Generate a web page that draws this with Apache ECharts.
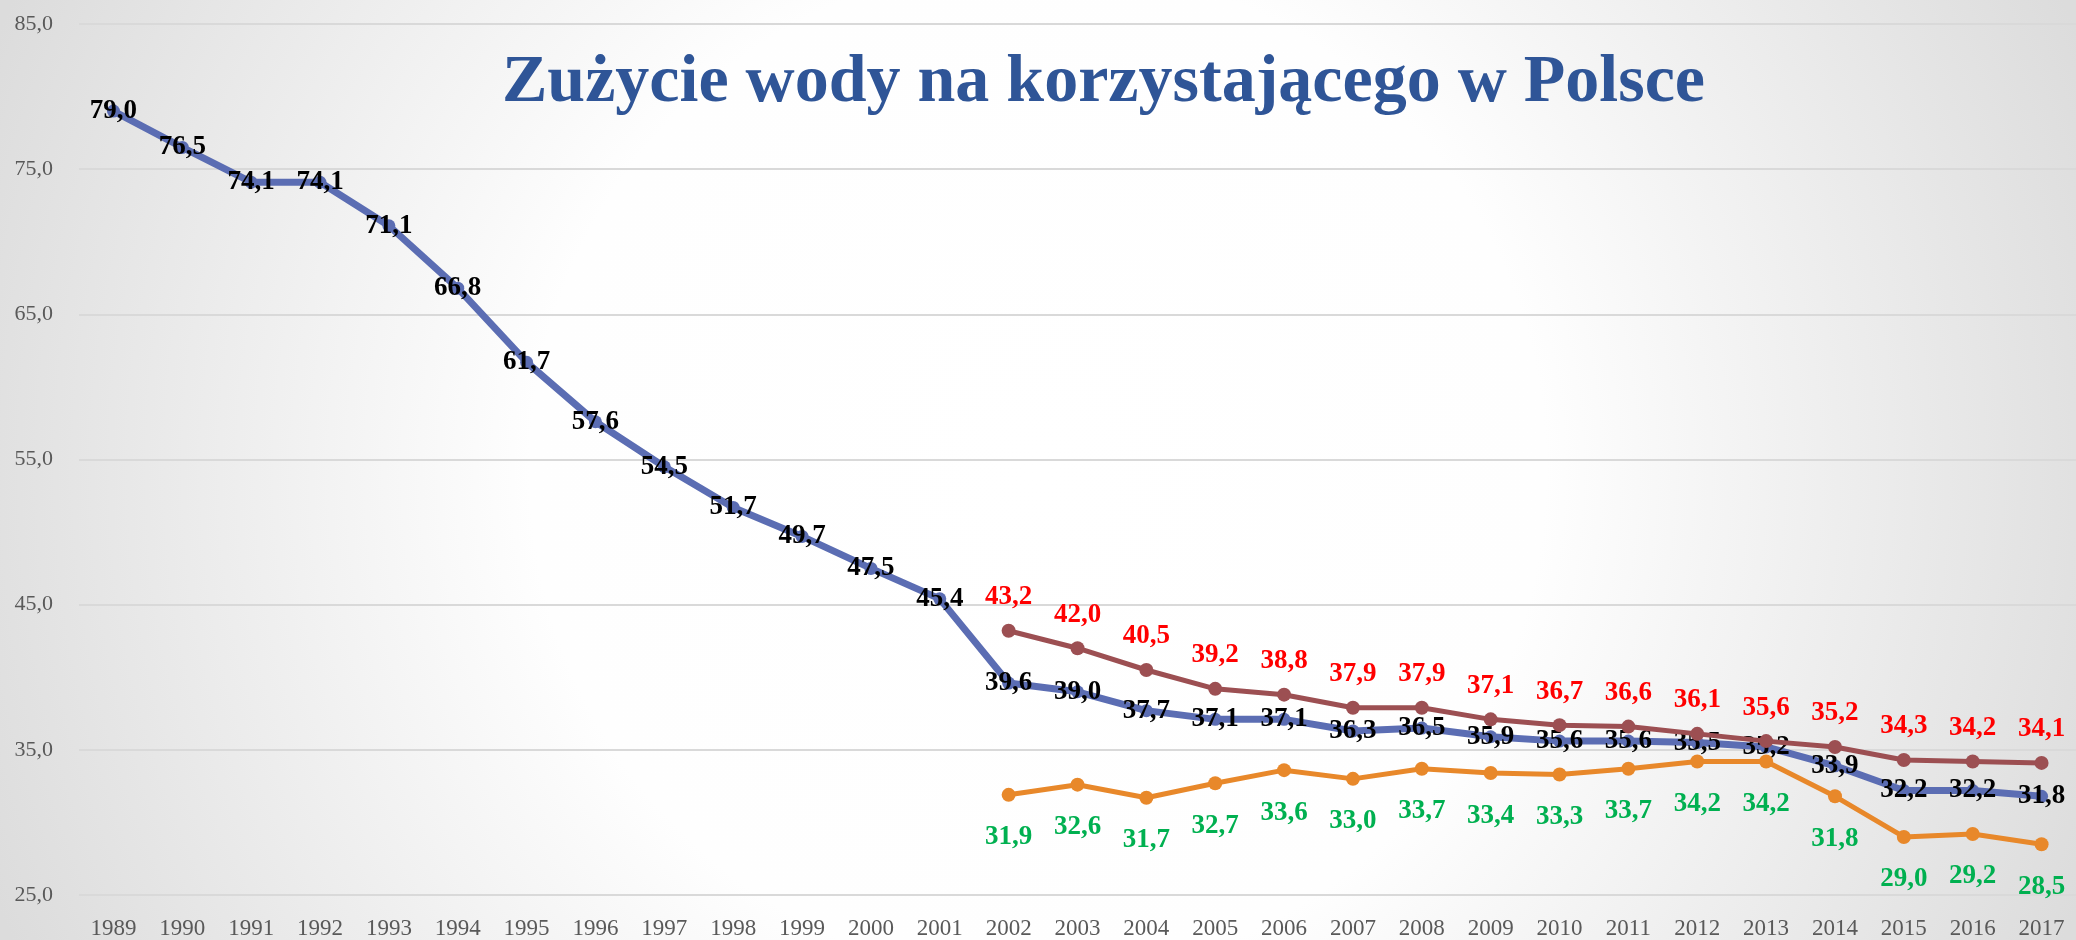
<!DOCTYPE html>
<html>
<head>
<meta charset="utf-8">
<title>Zużycie wody</title>
<script src="https://cdn.jsdelivr.net/npm/echarts@6/dist/echarts.min.js"></script>
<style>
  html, body { margin: 0; padding: 0; }
  #chart { width: 2076px; height: 940px; }
</style>
</head>
<body>
<div id="chart"></div>
<script>
// lata
var years = ['1989', '1990', '1991', '1992', '1993', '1994', '1995', '1996', '1997', '1998',
  '1999', '2000', '2001', '2002', '2003', '2004', '2005', '2006', '2007', '2008', '2009',
  '2010', '2011', '2012', '2013', '2014', '2015', '2016', '2017'];
var yearsLate = years.slice(13); // 2002 - 2017

// seria niebieska (1989 - 2017)
var blueVals = [79.0, 76.5, 74.1, 74.1, 71.1, 66.8, 61.7, 57.6, 54.5, 51.7, 49.7, 47.5, 45.4,
  39.6, 39.0, 37.7, 37.1, 37.1, 36.3, 36.5, 35.9, 35.6, 35.6, 35.5, 35.2, 33.9, 32.2, 32.2, 31.8];
// seria czerwona (2002 - 2017)
var redVals = [43.2, 42.0, 40.5, 39.2, 38.8, 37.9, 37.9, 37.1, 36.7, 36.6, 36.1, 35.6, 35.2, 34.3, 34.2, 34.1];
// seria pomarańczowa (2002 - 2017)
var orangeVals = [31.9, 32.6, 31.7, 32.7, 33.6, 33.0, 33.7, 33.4, 33.3, 33.7, 34.2, 34.2, 31.8, 29.0, 29.2, 28.5];

var yMin = 25, yMax = 85, yStep = 10;

function fmt(v) {
  return Number(v).toFixed(1).replace('.', ',');
}
function pairs(vals) {
  return vals.map(function (v, i) { return [yearsLate[i], v]; });
}

var labelFont = {
  fontFamily: 'Liberation Serif',
  fontWeight: 'bold',
  fontSize: 27
};

var option = {
  backgroundColor: {
    type: 'radial', x: 0.5, y: 0.5, r: 1.2,
    colorStops: [
      { offset: 0, color: '#ffffff' },
      { offset: 0.45, color: '#fefefe' },
      { offset: 1, color: '#dcdcdc' }
    ]
  },
  animation: false,
  title: {
    text: 'Zużycie wody na korzystającego w Polsce',
    left: 497,
    top: 44,
    textStyle: {
      fontFamily: 'Liberation Serif',
      fontWeight: 'bold',
      fontSize: 68,
      color: '#2F5597'
    }
  },
  grid: {
    left: 79,
    top: 24,
    width: 2003,
    bottom: 45
  },
  xAxis: {
    type: 'category',
    data: years,
    boundaryGap: true,
    axisLine: { show: false },
    axisTick: { show: false },
    axisLabel: {
      margin: 22,
      color: '#595959',
      fontFamily: 'Liberation Serif',
      fontSize: 23
    }
  },
  yAxis: {
    type: 'value',
    min: yMin,
    max: yMax,
    interval: yStep,
    axisLine: { show: false },
    axisTick: { show: false },
    axisLabel: {
      margin: 26,
      color: '#595959',
      fontFamily: 'Liberation Serif',
      fontSize: 22,
      formatter: fmt
    },
    splitLine: {
      lineStyle: { color: '#d9d9d9', width: 2 }
    }
  },
  series: [
    {
      name: 'niebieska',
      type: 'line',
      data: blueVals,
      symbol: 'circle',
      symbolSize: 13,
      z: 2,
      itemStyle: { color: '#5B6DB3' },
      lineStyle: { width: 7, color: '#5B6DB3' },
      label: Object.assign({
        show: true,
        position: 'inside',
        color: '#000000',
        formatter: function (p) { return fmt(p.value); }
      }, labelFont)
    },
    {
      name: 'czerwona',
      type: 'line',
      data: pairs(redVals),
      symbol: 'circle',
      symbolSize: 14,
      z: 3,
      itemStyle: { color: '#9C4F52' },
      lineStyle: { width: 5, color: '#9C4F52' },
      label: Object.assign({
        show: true,
        position: 'top',
        distance: 13,
        color: '#FF0000',
        formatter: function (p) { return fmt(p.value[1]); }
      }, labelFont)
    },
    {
      name: 'pomaranczowa',
      type: 'line',
      data: pairs(orangeVals),
      symbol: 'circle',
      symbolSize: 14,
      z: 3,
      itemStyle: { color: '#E8882A' },
      lineStyle: { width: 5, color: '#E8882A' },
      label: Object.assign({
        show: true,
        position: 'bottom',
        distance: 22,
        color: '#00B050',
        formatter: function (p) { return fmt(p.value[1]); }
      }, labelFont)
    }
  ]
};

var myChart = echarts.init(document.getElementById('chart'));
myChart.setOption(option, true);
window.onresize = function () { myChart.resize(); };
</script>
</body>
</html>
